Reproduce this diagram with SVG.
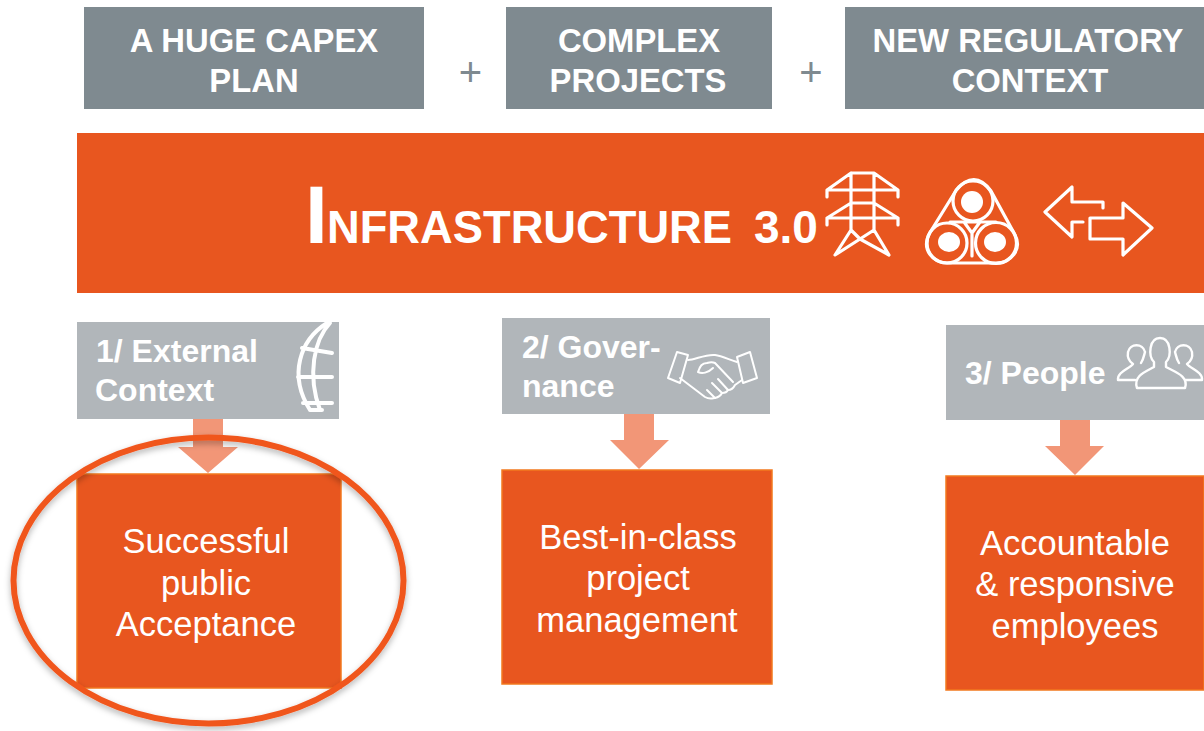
<svg xmlns="http://www.w3.org/2000/svg" width="1204" height="731" viewBox="0 0 1204 731">
<style>
text{font-family:"Liberation Sans",Arial,sans-serif;fill:#fff}
.top{fill:#7f8a90}
.band,.res{fill:#e8561f}
.res{stroke:#f2791f;stroke-width:1.5}
.lab{fill:#b1b6ba}
.h{font-size:32.8px;font-weight:700;text-anchor:middle}
.plus{font-size:40px;fill:#7f8a90;text-anchor:middle}
.l{font-size:32px;font-weight:700}
.r{font-size:34.5px;text-anchor:middle}
.ic{fill:none;stroke:#fff;stroke-width:3.2;stroke-linejoin:round;stroke-linecap:round}
.ic2{fill:none;stroke:#fff;stroke-width:2;stroke-linejoin:round;stroke-linecap:round}
.arr{fill:#f29677}
</style>
<defs><filter id="sh" x="-10%" y="-10%" width="120%" height="125%"><feDropShadow dx="0" dy="3" stdDeviation="3" flood-color="#000" flood-opacity=".3"/></filter></defs>
<rect width="1204" height="731" fill="#fff"/>
<g id="capex"><rect class="top" x="84" y="7" width="340" height="102"/><text class="h" x="254" y="52">A HUGE CAPEX</text><text class="h" x="254" y="92">PLAN</text></g>
<text class="plus" x="470.5" y="86">+</text>
<g id="complex"><rect class="top" x="506" y="7" width="266" height="102"/><text class="h" x="639" y="52">COMPLEX</text><text class="h" x="638" y="92">PROJECTS</text></g>
<text class="plus" x="811" y="86">+</text>
<g id="regulatory"><rect class="top" x="845" y="7" width="359" height="102"/><text class="h" x="1028" y="52">NEW REGULATORY</text><text class="h" x="1030" y="92">CONTEXT</text></g>
<g id="infrastructure">
<rect class="band" x="77" y="133" width="1127" height="160"/>
<text x="305" y="243" font-weight="700" font-size="82">I</text>
<text x="327" y="243" font-weight="700" font-size="46" textLength="405" lengthAdjust="spacingAndGlyphs">NFRASTRUCTURE</text>
<text x="754" y="243" font-weight="700" font-size="46">3.0</text>
<g class="ic">
<path d="M851 173H874L898 190V197M851 173L827 190V197M827 190H898M851 173V230M874 173V230M851 203H874M827 218L851 203M874 203L898 218M827 218H898V225M827 218V225M851 230L835 255L860 239L889 255L874 230M851 230L860 239L874 230"/>
<path d="M956 190.500C968 176 980 176 991 191L1014 233C1024 250 1010 263 996 263H947C934 263 920 250 930 232.500Z"/>
<circle cx="973" cy="201" r="20"/><circle cx="947" cy="243" r="20"/><circle cx="996" cy="243" r="20.500"/>
<path d="M950 222H996M964 222L972 233L980 222M972 233V256"/>
<path d="M1045 212L1072 187V202H1103V208M1045 212L1072 237V222H1083M1090 218H1123V203L1152 228L1123 255V239H1090Z"/>
</g>
<g fill="#fff"><ellipse cx="972" cy="202" rx="11" ry="11"/><ellipse cx="949" cy="242" rx="11" ry="10"/><ellipse cx="995" cy="242" rx="11" ry="10"/></g>
</g>
<g id="connectors" class="arr">
<path d="M193 419H223V447H238L208 473L178 447H193Z"/>
<path d="M624 414H654V440H669L639 469L610 440H624Z"/>
<path d="M1060 420H1090V446H1104L1075 475L1045 446H1060Z"/>
</g>
<g id="external">
<rect class="lab" x="77" y="322" width="262" height="97"/>
<text class="l" x="96" y="362">1/ External</text><text class="l" x="95" y="401">Context</text>
<path class="ic" style="stroke-width:4" d="M327 323C300 340 288 375 310 410M330 323C314 340 307 375 320 410M302 348L332 353M298 377H332M303 403L332 403M310 410H322"/>
</g>
<g id="governance">
<rect class="lab" x="502" y="318" width="268" height="96"/>
<text class="l" x="522" y="358">2/ Gover-</text><text class="l" x="522" y="397">nance</text>
<g class="ic2"><path d="M677 352L688 355L680 383L668 378ZM750 352L757 378L743 383L737 357Z"/><path d="M688 360C695 360 705 354 715 355C722 356 730 360 737 362M680 378L705 397C710 400 713 398 715 398C719 397 721 395 722 393C726 393 727 392 728 390C732 390 734 387 735 385L742 380"/><path d="M698 372C700 366 702 363 707 363C710 362 713 362 715 363L733 382M698 372C702 374 708 373 713 368M722 393L712 383M728 390L718 379M715 398L707 390"/></g>
</g>
<g id="people">
<rect class="lab" x="946" y="325" width="258" height="95"/>
<text class="l" x="965" y="384">3/ People</text>
<g class="ic2" style="stroke-width:2.400"><path d="M1137 388C1133 376 1145 372 1154 367V362C1148 356 1149 338 1160 338C1171 338 1172 356 1166 362V367C1175 372 1189 376 1185 388Z"/><path d="M1145 352C1143 343 1130 343 1128 352C1127 358 1130 362 1133 364C1129 369 1117 372 1118 380H1135M1141 363C1144 358 1144 355 1145 352"/><path d="M1175 352C1177 343 1190 343 1192 352C1193 358 1190 362 1187 364C1191 369 1203 372 1202 380H1186M1179 363C1176 358 1176 355 1175 352"/></g>
</g>
<g id="acceptance"><rect class="res" x="77" y="474" width="264" height="214"/>
<text class="r" x="206" y="553">Successful</text><text class="r" x="206" y="595">public</text><text class="r" x="206" y="636">Acceptance</text></g>
<g id="project"><rect class="res" x="502" y="470" width="270" height="214"/>
<text class="r" x="638" y="549">Best-in-class</text><text class="r" x="638" y="590">project</text><text class="r" x="637" y="632">management</text></g>
<g id="employees"><rect class="res" x="946" y="476" width="258" height="214"/>
<text class="r" x="1075" y="555">Accountable</text><text class="r" x="1075" y="596">&amp; responsive</text><text class="r" x="1075" y="638">employees</text></g>
<ellipse id="highlight" cx="208.500" cy="580.500" rx="195" ry="143" fill="none" stroke="#f0561f" stroke-width="6" filter="url(#sh)"/>
</svg>
